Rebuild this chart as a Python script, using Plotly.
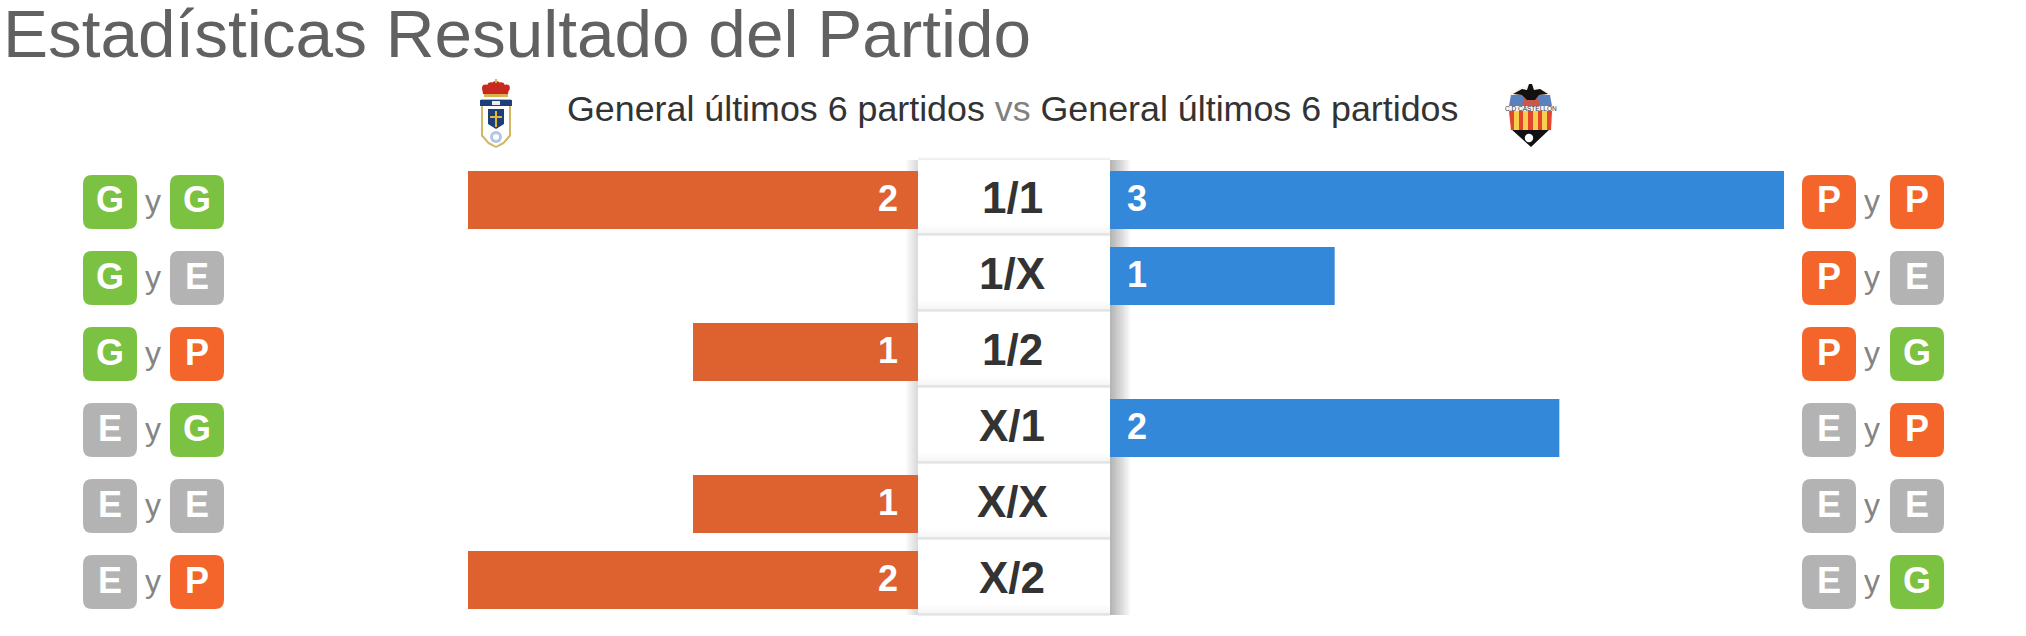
import plotly.graph_objects as go

W, H = 2026, 636
FONT = "Liberation Sans"

CATEGORIES = ["1/1", "1/X", "1/2", "X/1", "X/X", "X/2"]
HOME_VALUES = [2, 0, 1, 0, 1, 2]
AWAY_VALUES = [3, 1, 0, 2, 0, 0]
LEFT_BADGES = [("G", "G"), ("G", "E"), ("G", "P"), ("E", "G"), ("E", "E"), ("E", "P")]
RIGHT_BADGES = [("P", "P"), ("P", "E"), ("P", "G"), ("E", "P"), ("E", "E"), ("E", "G")]
TITLE = "Estadísticas Resultado del Partido"
LEFT_SUB = "General últimos 6 partidos"
RIGHT_SUB = "General últimos 6 partidos"

BADGE_COL = {"G": "#7cc242", "E": "#b3b3b3", "P": "#f3652a"}
ORANGE = "#dd6230"
BLUE = "#3388d9"

PITCH = 76
ROW0 = 200


def fx(px):
    return px / W


def fy(py):
    return 1 - py / H


shapes, ann = [], []


def text(x, y, s, size, color, bold=False, anchor="center"):
    ann.append(dict(xref="paper", yref="paper", x=fx(x), y=fy(y), text=f"<b>{s}</b>" if bold else s,
                    showarrow=False, xanchor=anchor, yanchor="middle",
                    font=dict(family=FONT, size=size, color=color)))


def rect(x0, y0, x1, y1, fill, layer="above"):
    shapes.append(dict(type="rect", xref="paper", yref="paper", x0=fx(x0), x1=fx(x1), y0=fy(y0), y1=fy(y1),
                       fillcolor=fill, line=dict(width=0), layer=layer))


def poly(points, fill):
    d = "M " + " L ".join(f"{fx(x):.5f},{fy(y):.5f}" for x, y in points) + " Z"
    shapes.append(dict(type="path", xref="paper", yref="paper", path=d, fillcolor=fill, line=dict(width=0),
                       layer="above"))


def circle(cx, cy, r, fill):
    shapes.append(dict(type="circle", xref="paper", yref="paper", x0=fx(cx - r), x1=fx(cx + r), y0=fy(cy + r),
                       y1=fy(cy - r), fillcolor=fill, line=dict(width=0), layer="above"))


def rounded(x0, y0, x1, y1, r, fill):
    a, b, c, d = fx(x0), fx(x1), fy(y0), fy(y1)
    rx, ry = r / W, r / H
    p = (f"M {a+rx},{c} L {b-rx},{c} Q {b},{c} {b},{c-ry} L {b},{d+ry} Q {b},{d} {b-rx},{d} "
         f"L {a+rx},{d} Q {a},{d} {a},{d+ry} L {a},{c-ry} Q {a},{c} {a+rx},{c} Z")
    shapes.append(dict(type="path", xref="paper", yref="paper", path=p, fillcolor=fill, line=dict(width=0),
                       layer="above"))


def badge_pair(x0, x1, row, pair):
    cy = ROW0 + 2 + row * PITCH
    for x, letter in zip((x0, x1), pair):
        rounded(x, cy - 27, x + 54, cy + 27, 9, BADGE_COL[letter])
        text(x + 27, cy - 2, letter, 36, "white", bold=True)
    text((x0 + x1 + 54) / 2 - 1, cy - 1, "y", 32, "#858585")


# Centre column with a soft shadow (clipped at the bottom, as in the page)
BOX_L, BOX_R = 918, 1110
BOX_TOP = 160
BOTTOM = 615
for s in range(2, 22, 2):
    rect(BOX_R, BOX_TOP, BOX_R + s, BOTTOM, "rgba(0,0,0,0.032)", layer="below")
for s in range(2, 14, 2):
    rect(BOX_L - s, BOX_TOP, BOX_L, BOTTOM, "rgba(0,0,0,0.022)", layer="below")
for s in (1, 2, 3):
    rect(BOX_L, BOX_TOP - s, BOX_R, BOX_TOP, "rgba(0,0,0,0.025)", layer="below")
rect(BOX_L, BOX_TOP, BOX_R, BOTTOM, "white", layer="below")
for i, cat in enumerate(CATEGORIES):
    sep = BOX_TOP + (i + 1) * PITCH - 1
    for h in (10, 8, 6, 4):
        rect(BOX_L, sep - h, BOX_R, sep, "rgba(0,0,0,0.006)", layer="below")
    rect(BOX_L, sep - 2, BOX_R, sep + 1, "rgba(0,0,0,0.075)", layer="below")
    text(1012, ROW0 - 3 + i * PITCH, cat, 44, "#333333", bold=True)

for i in range(6):
    badge_pair(83, 170, i, LEFT_BADGES[i])
    badge_pair(1802, 1890, i, RIGHT_BADGES[i])

# Headings
text(1, 33, TITLE, 67.5, "#616161", anchor="left")
ann.append(dict(xref="paper", yref="paper", x=fx(565), y=fy(109), xanchor="left", yanchor="middle",
                showarrow=False, font=dict(family=FONT, size=35.8, color="#333333"),
                text=f'{LEFT_SUB} <span style="color:#808080">vs</span> {RIGHT_SUB}'))

# Crest left (Real Oviedo, simplified)
poly([(481, 99), (511, 99), (511, 136), (504, 144), (496, 148), (488, 144), (481, 136)], "#d2b866")
poly([(483, 101), (509, 101), (509, 135), (503, 142), (496, 146), (489, 142), (483, 135)], "#ffffff")
poly([(480, 100), (512, 100), (512, 106), (480, 106)], "#1f3f7a")
poly([(492, 101), (500, 101), (500, 105), (492, 105)], "#e9edf5")
poly([(488, 109), (504, 109), (504, 124), (496, 129), (488, 124)], "#1f3f7a")
poly([(495, 111), (497, 111), (497, 116), (502, 116), (502, 118), (497, 118), (497, 127), (495, 127), (495, 118),
      (490, 118), (490, 116), (495, 116)], "#e3b73c")
poly([(483, 94), (482, 87), (509, 87), (508, 94)], "#c8281e")
for cx, cy, r in ((485.5, 88, 3.4), (491, 86, 3.8), (496, 85, 4), (501, 86, 3.8), (506.5, 88, 3.4)):
    circle(cx, cy, r, "#c8281e")
poly([(484, 94), (508, 94), (508, 97), (484, 97)], "#d9b24c")
poly([(495, 79), (497, 79), (497, 83), (495, 83)], "#d9b24c")
circle(496, 137, 6, "#b4c6e4")
circle(496, 137, 3, "#ffffff")

# Crest right (CD Castellón, simplified)
poly([(1510, 92), (1530, 84), (1550, 92), (1553, 110), (1552, 124), (1531, 147), (1510, 124), (1508, 110)], "#fdf6f0")
poly([(1511, 129), (1550, 129), (1531, 147)], "#111111")
poly([(1509, 111), (1552, 111), (1551, 130), (1511, 130)], "#e2452b")
for x in (1514, 1523, 1533, 1542):
    poly([(x, 111), (x + 5, 111), (x + 5, 130), (x, 130)], "#f6cf4f")
poly([(1511, 95), (1550, 95), (1552, 106), (1509, 106)], "#5a80be")
poly([(1524, 98), (1538, 98), (1540, 106), (1522, 106)], "#c9584a")
poly([(1513, 94), (1522, 89), (1527, 90), (1529, 84), (1532, 84), (1534, 90), (1540, 89), (1548, 94), (1539, 95),
      (1535, 100), (1527, 100), (1522, 95)], "#111111")
circle(1529, 138, 4.2, "#ffffff")
text(1530.5, 108.5, "C.D CASTELLON", 6.5, "#333333")

fig = go.Figure()
fig.add_trace(go.Bar(y=CATEGORIES, x=HOME_VALUES, orientation="h", marker=dict(color=ORANGE, line=dict(width=0)),
                     xaxis="x", yaxis="y", hoverinfo="skip", showlegend=False))
fig.add_trace(go.Bar(y=CATEGORIES, x=AWAY_VALUES, orientation="h", marker=dict(color=BLUE, line=dict(width=0)),
                     xaxis="x2", yaxis="y2", hoverinfo="skip", showlegend=False))

for cat, v in zip(CATEGORIES, HOME_VALUES):
    if v:
        ann.append(dict(xref="x", yref="y", x=0, y=cat, text=f"<b>{v}</b>", showarrow=False, xanchor="right",
                        xshift=-18, yshift=2, font=dict(family=FONT, size=36, color="white")))
for cat, v in zip(CATEGORIES, AWAY_VALUES):
    if v:
        ann.append(dict(xref="x2", yref="y2", x=0, y=cat, text=f"<b>{v}</b>", showarrow=False, xanchor="left",
                        xshift=15, yshift=2, font=dict(family=FONT, size=36, color="white")))

y_top, y_bottom = ROW0 - PITCH / 2, ROW0 + 5.5 * PITCH
ydomain = [fy(y_bottom), fy(y_top)]
hidden = dict(visible=False, showgrid=False, zeroline=False, fixedrange=True)
fig.update_layout(
    width=W, height=H, margin=dict(l=0, r=0, t=0, b=0), paper_bgcolor="white", plot_bgcolor="rgba(0,0,0,0)",
    bargap=18 / 76, showlegend=False,
    xaxis=dict(domain=[fx(468), fx(918)], range=[2, 0], anchor="y", **hidden),
    xaxis2=dict(domain=[fx(1110), fx(1784)], range=[0, 3], anchor="y2", **hidden),
    yaxis=dict(domain=ydomain, type="category", categoryorder="array", categoryarray=CATEGORIES,
               range=[5.5, -0.5], anchor="x", **hidden),
    yaxis2=dict(domain=ydomain, type="category", categoryorder="array", categoryarray=CATEGORIES,
                range=[5.5, -0.5], anchor="x2", **hidden),
    shapes=shapes, annotations=ann,
)
fig.write_html("out.html", config={"displayModeBar": False},
               post_script="document.body.style.margin='0';document.body.style.overflow='hidden';")
